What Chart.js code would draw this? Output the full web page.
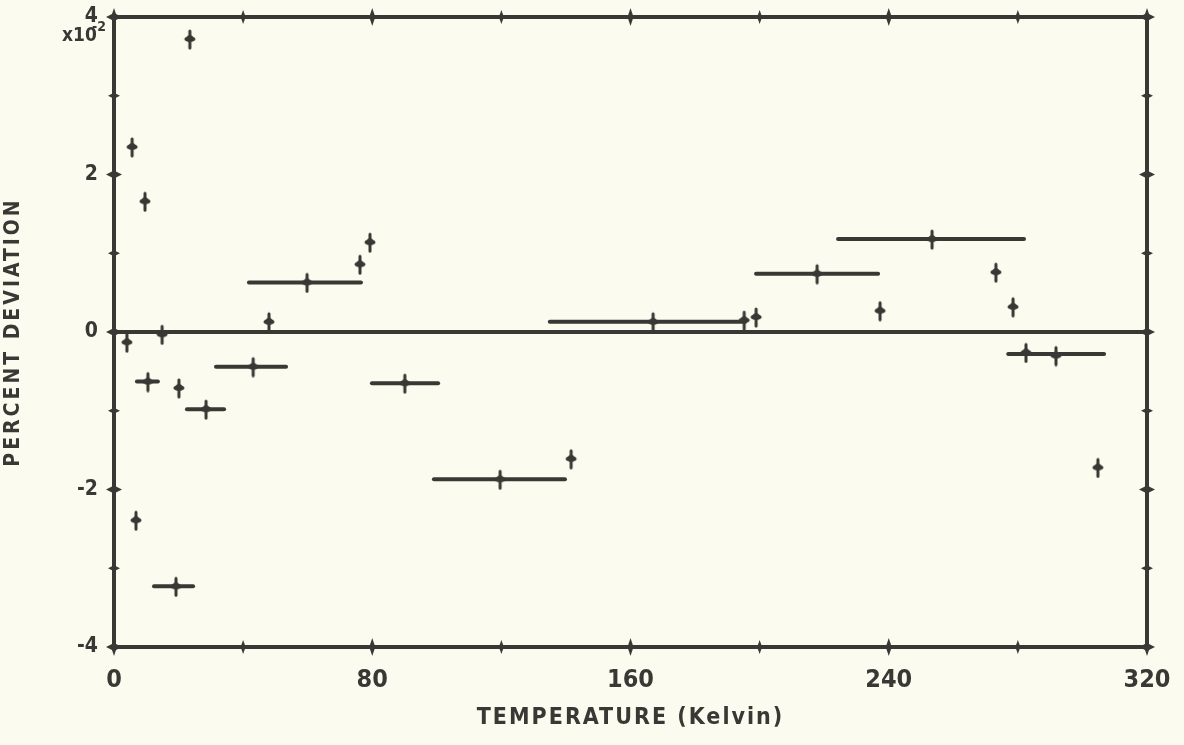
<!DOCTYPE html>
<html>
<head>
<meta charset="utf-8">
<script src="https://cdn.jsdelivr.net/npm/chart.js@4.4.1/dist/chart.umd.min.js"></script>
<style>
  html, body { margin: 0; padding: 0; background: #fbfbef; }
  canvas { display: block; }
</style>
</head>
<body>
<canvas id="devChart" width="1184" height="745"></canvas>
<script>
// temperature (K) and percent deviation (x10^-2) of each measured point
const temps = [4.0, 5.6, 6.8, 9.6, 10.5, 23.5, 14.9, 19.2, 20.1, 28.5, 43.1, 48.0, 59.8, 76.2, 79.3,
               90.1, 119.6, 141.6, 167.0, 195.2, 198.9, 217.8, 237.3, 253.4, 273.2, 278.5, 282.5, 291.8, 304.8];
const devs = [-0.13, 2.35, -2.39, 1.66, -0.63, 3.72, -0.03, -3.23, -0.71, -0.98, -0.44, 0.13, 0.63, 0.86, 1.14,
              -0.65, -1.87, -1.61, 0.13, 0.15, 0.19, 0.74, 0.27, 1.18, 0.76, 0.32, -0.26, -0.30, -1.72];

// temperature spans covered by averaged runs
const rangeFrom = [7.1, 12.4, 22.6, 31.6, 41.8, 79.9, 99.1, 135.0, 198.9, 224.3, 277.0];
const rangeTo   = [13.6, 24.5, 34.1, 53.3, 76.5, 100.4, 139.7, 195.5, 236.7, 281.9, 306.7];
const rangeDev  = [-0.63, -3.23, -0.98, -0.44, 0.63, -0.65, -1.87, 0.13, 0.74, 1.18, -0.28];

const xTicks = [0, 80, 160, 240, 320];
const yTicks = [-4, -2, 0, 2, 4];

const ink = '#3a3835';
const tickFont = "'Liberation Sans Narrow', 'DejaVu Sans Condensed', sans-serif";
const titleFont = "'DejaVu Sans Condensed', sans-serif";

// little plotter cross used for every point
const mark = document.createElement('canvas');
mark.width = 14; mark.height = 22;
(function () {
    const m = mark.getContext('2d');
    m.strokeStyle = ink; m.fillStyle = ink;
    m.lineWidth = 3; m.lineCap = 'round';
    m.beginPath(); m.moveTo(7, 3); m.lineTo(7, 20); m.stroke();
    m.beginPath(); m.ellipse(7, 11, 5.5, 3, 0, 0, Math.PI * 2); m.fill();
    m.beginPath(); m.arc(7, 10, 3, 0, Math.PI * 2); m.fill();
})();

const rangeSets = rangeFrom.map((x0, i) => ({
    data: [{ x: x0, y: rangeDev[i] }, { x: rangeTo[i], y: rangeDev[i] }],
    showLine: true,
    borderColor: ink,
    borderWidth: 4,
    borderCapStyle: 'round',
    pointRadius: 0
}));

// frame, diamond tick marks, titles and the exponent note
const framePlugin = {
    id: 'frame',
    afterDatasetsDraw(chart) {
        const { ctx, chartArea: a, scales } = chart;
        ctx.save();
        ctx.strokeStyle = ink; ctx.fillStyle = ink;
        ctx.lineWidth = 4; ctx.lineJoin = 'miter';
        ctx.strokeRect(a.left, a.top, a.right - a.left, a.bottom - a.top);

        const bump = (x, y, w, h) => {
            ctx.beginPath();
            ctx.moveTo(x - w, y); ctx.lineTo(x, y - h); ctx.lineTo(x + w, y); ctx.lineTo(x, y + h);
            ctx.closePath(); ctx.fill();
        };
        scales.y.ticks.forEach(t => {
            const py = scales.y.getPixelForValue(t.value);
            const big = t.value % 2 === 0;
            bump(a.left, py, big ? 8 : 6, big ? 4 : 3);
            bump(a.right, py, big ? 8 : 6, big ? 4 : 3);
        });
        scales.x.ticks.forEach(t => {
            const px = scales.x.getPixelForValue(t.value);
            const big = t.value % 80 === 0;
            bump(px, a.bottom, big ? 3 : 2.5, big ? 9 : 7);
            bump(px, a.top, big ? 3 : 2.5, big ? 9 : 7);
        });

        ctx.textBaseline = 'middle';
        ctx.textAlign = 'center';
        ctx.font = "bold 23px " + titleFont;
        ctx.letterSpacing = '2px';
        ctx.fillText('TEMPERATURE (Kelvin)', (a.left + a.right) / 2, 718);
        ctx.save();
        ctx.translate(14, (a.top + a.bottom) / 2);
        ctx.rotate(-Math.PI / 2);
        ctx.font = "bold 21px " + titleFont;
        ctx.letterSpacing = '3px';
        ctx.fillText('PERCENT DEVIATION', 0, 0);
        ctx.restore();

        ctx.letterSpacing = '0px';
        ctx.textAlign = 'left';
        ctx.font = "bold 19px " + tickFont;
        ctx.fillText('x10', 62, 36);
        ctx.font = "bold 14px " + tickFont;
        ctx.fillText('-2', 92, 27);
        ctx.restore();
    }
};

new Chart(document.getElementById('devChart'), {
    type: 'scatter',
    data: {
        datasets: [
            ...rangeSets,
            {
                data: temps.map((t, i) => ({ x: t, y: devs[i] })),
                pointStyle: mark,
                pointRadius: 7
            }
        ]
    },
    options: {
        responsive: false,
        animation: false,
        events: [],
        layout: { padding: { top: 17, right: 37, left: 0, bottom: 0 } },
        plugins: { legend: { display: false }, tooltip: { enabled: false } },
        scales: {
            x: {
                type: 'linear', min: 0, max: 320,
                grid: { display: false },
                border: { display: false },
                ticks: {
                    stepSize: 40, padding: 10, color: ink, maxRotation: 0, autoSkip: false,
                    font: { family: tickFont, size: 25, weight: 'bold' },
                    callback: v => xTicks.includes(v) ? String(v) : ''
                },
                afterFit: s => { s.height = 98; s.paddingLeft = 0; s.paddingRight = 0; }
            },
            y: {
                min: -4, max: 4,
                grid: {
                    drawTicks: false,
                    lineWidth: 4,
                    color: c => c.tick && c.tick.value === 0 ? ink : 'rgba(0,0,0,0)'
                },
                border: { display: false },
                ticks: {
                    stepSize: 1, padding: 16, color: ink,
                    font: { family: tickFont, size: 21, weight: 'bold' },
                    callback: v => yTicks.includes(v) ? String(v) : ''
                },
                afterFit: s => { s.width = 114; s.paddingTop = 0; s.paddingBottom = 0; }
            }
        }
    },
    plugins: [framePlugin]
});
</script>
</body>
</html>
